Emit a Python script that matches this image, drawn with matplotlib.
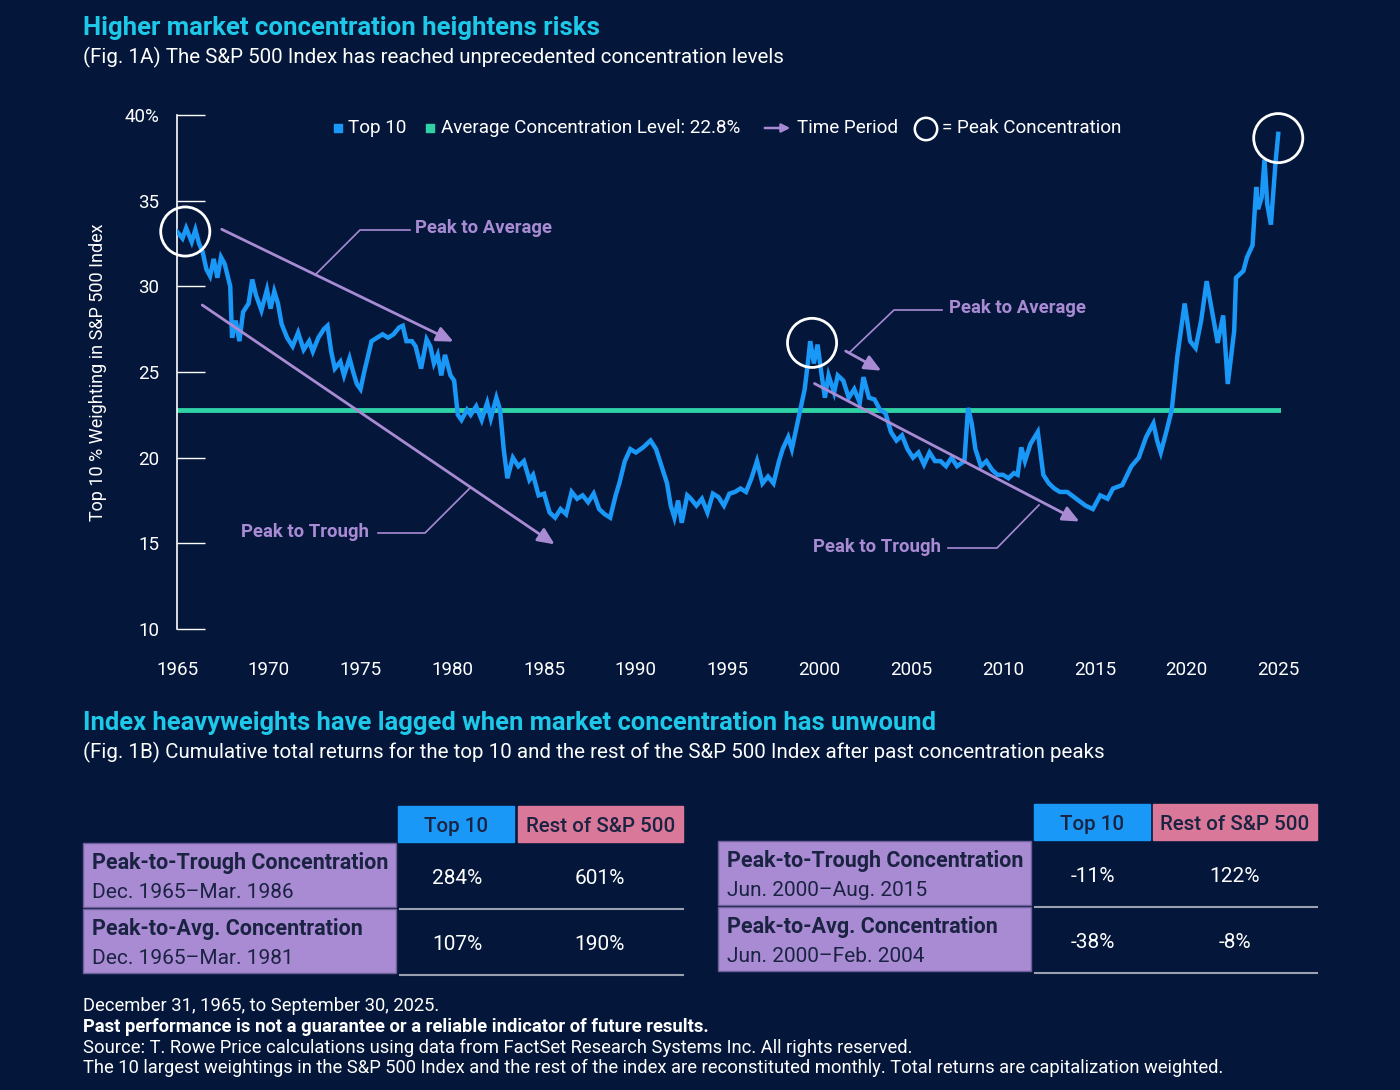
import matplotlib.pyplot as plt
import matplotlib.patches as patches

plt.rcParams['font.family'] = ['Roboto', 'DejaVu Sans']

BG = '#04173a'
BLUE = '#1a98f8'
GREEN = '#2fd1a5'
PURPLE = '#a98bd4'
PINK = '#d97898'
CYAN = '#1ec8e8'
DARK = '#1b2342'

# Top 10 weighting (%)
years = [1965.0, 1965.3, 1965.5, 1965.8, 1966.0, 1966.2, 1966.4, 1966.6, 1966.8, 1967.0,
         1967.2, 1967.4, 1967.6, 1967.9, 1968.0, 1968.2, 1968.4, 1968.6, 1968.9, 1969.1,
         1969.3, 1969.6, 1969.9, 1970.1, 1970.3, 1970.5, 1970.7, 1971.0, 1971.3, 1971.6,
         1971.9, 1972.2, 1972.4, 1972.7, 1973.0, 1973.2, 1973.4, 1973.6, 1973.9, 1974.1,
         1974.4, 1974.6, 1974.8, 1975.0, 1975.2, 1975.6, 1975.9, 1976.2, 1976.5, 1976.8,
         1977.1, 1977.3, 1977.5, 1977.8, 1978.0, 1978.3, 1978.6, 1978.8, 1979.0, 1979.2,
         1979.4, 1979.6, 1979.9, 1980.1, 1980.3, 1980.5, 1980.8, 1981.0, 1981.3, 1981.6,
         1981.9, 1982.1, 1982.4, 1982.6, 1982.8, 1983.0, 1983.3, 1983.6, 1983.9, 1984.2,
         1984.4, 1984.7, 1985.0, 1985.3, 1985.6, 1985.9, 1986.2, 1986.5, 1986.8, 1987.1,
         1987.4, 1987.7, 1988.0, 1988.3, 1988.6, 1988.9, 1989.1, 1989.4, 1989.7, 1990.0,
         1990.4, 1990.8, 1991.1, 1991.4, 1991.7, 1991.9, 1992.1, 1992.3, 1992.5, 1992.8,
         1993.0, 1993.3, 1993.6, 1993.9, 1994.2, 1994.5, 1994.8, 1995.1, 1995.4, 1995.7,
         1996.0, 1996.3, 1996.6, 1996.9, 1997.2, 1997.5, 1997.8, 1998.0, 1998.3, 1998.5,
         1998.8, 1999.0, 1999.2, 1999.4, 1999.5, 1999.7, 1999.9, 2000.1, 2000.3, 2000.5,
         2000.8, 2001.0, 2001.3, 2001.6, 2001.9, 2002.2, 2002.4, 2002.7, 2003.0, 2003.3,
         2003.6, 2003.9, 2004.2, 2004.5, 2004.8, 2005.1, 2005.4, 2005.7, 2006.0, 2006.3,
         2006.6, 2006.9, 2007.2, 2007.5, 2007.9, 2008.1, 2008.3, 2008.5, 2008.8, 2009.1,
         2009.4, 2009.7, 2010.0, 2010.3, 2010.6, 2010.8, 2011.0, 2011.2, 2011.5, 2011.9,
         2012.2, 2012.5, 2012.8, 2013.1, 2013.5, 2014.0, 2014.5, 2014.9, 2015.3, 2015.7,
         2016.0, 2016.5, 2017.0, 2017.4, 2017.8, 2018.2, 2018.4, 2018.6, 2018.9, 2019.2,
         2019.5, 2019.9, 2020.2, 2020.5, 2020.8, 2021.1, 2021.4, 2021.7, 2022.0, 2022.25,
         2022.6, 2022.7, 2023.1, 2023.3, 2023.6, 2023.8, 2023.9, 2024.1, 2024.25, 2024.4,
         2024.6, 2024.85, 2025.0]
weights = [33.2, 32.8, 33.4, 32.6, 33.3, 32.5, 32.0, 31.0, 30.6, 31.6,
           30.5, 31.7, 31.3, 30.0, 27.0, 28.0, 26.8, 28.5, 29.0, 30.4,
           29.5, 28.6, 29.8, 28.7, 29.7, 29.0, 27.8, 27.0, 26.5, 27.3,
           26.3, 26.8, 26.2, 27.0, 27.5, 27.7, 26.2, 25.2, 25.6, 24.8,
           25.8, 25.0, 24.3, 24.0, 25.0, 26.8, 27.0, 27.2, 27.0, 27.2,
           27.6, 27.7, 26.8, 26.8, 26.5, 25.2, 26.9, 26.5, 25.5, 26.0,
           24.8, 26.0, 24.8, 24.5, 22.5, 22.2, 22.8, 22.5, 23.0, 22.2,
           23.2, 22.3, 23.5, 22.8, 20.5, 18.8, 20.0, 19.5, 19.8, 18.7,
           19.0, 17.8, 17.9, 16.8, 16.5, 17.0, 16.7, 18.0, 17.6, 17.8,
           17.4, 17.9, 17.0, 16.7, 16.5, 17.8, 18.5, 19.8, 20.5, 20.3,
           20.6, 21.0, 20.5, 19.5, 18.5, 17.2, 16.5, 17.5, 16.2, 17.8,
           17.6, 17.2, 17.6, 16.8, 17.9, 17.7, 17.2, 17.9, 18.0, 18.2,
           18.0, 18.8, 19.8, 18.5, 18.9, 18.5, 19.8, 20.5, 21.2, 20.5,
           22.0, 23.0, 24.0, 25.8, 26.8, 25.5, 26.6, 25.0, 23.5, 24.8,
           23.8, 24.8, 24.5, 23.5, 24.0, 23.2, 24.7, 23.5, 23.4, 22.8,
           22.6, 21.5, 21.0, 21.3, 20.5, 20.0, 20.3, 19.6, 20.3, 19.8,
           19.8, 19.5, 20.0, 19.5, 19.8, 22.9, 22.0, 20.5, 19.5, 19.8,
           19.3, 19.0, 19.0, 18.8, 19.1, 19.0, 20.6, 19.8, 20.8, 21.5,
           19.0, 18.5, 18.2, 18.0, 18.0, 17.6, 17.2, 17.0, 17.8, 17.6,
           18.2, 18.4, 19.5, 20.0, 21.2, 22.0, 21.0, 20.3, 21.5, 22.8,
           25.9, 29.0, 26.8, 26.4, 28.0, 30.3, 28.5, 26.7, 28.3, 24.3,
           27.4, 30.5, 30.9, 31.7, 32.4, 35.8, 34.5, 35.2, 37.4, 34.8,
           33.6, 37.2, 38.9]
avg_level = 22.8
peaks_x = [1965.45, 1999.6, 2025.0]
peaks_y = [33.2, 26.7, 38.65]

yticks = [10, 15, 20, 25, 30, 35, 40]
ytick_labels = ['10', '15', '20', '25', '30', '35', '40%']
xticks = [1965, 1970, 1975, 1980, 1985, 1990, 1995, 2000, 2005, 2010, 2015, 2020, 2025]

fig = plt.figure(figsize=(14, 10.9), dpi=100, facecolor=BG)

# overlay in pixel coordinates for texts and tables
ov = fig.add_axes([0, 0, 1, 1], zorder=0)
ov.set_xlim(0, 1400)
ov.set_ylim(1090, 0)
ov.axis('off')
ov.set_facecolor('none')

ax = fig.add_axes([177/1400, 1 - 629/1090, (1281 - 177)/1400, (629 - 115)/1090], zorder=1)
ax.set_facecolor('none')
ax.set_xlim(1965, 2025.15)
ax.set_ylim(10, 40)
for s in ['top', 'right', 'bottom']:
    ax.spines[s].set_visible(False)
ax.spines['left'].set_color('white')
ax.spines['left'].set_linewidth(1.2)
ax.set_yticks(yticks)
ax.set_yticklabels(ytick_labels)
ax.tick_params(axis='y', direction='in', length=20, width=1, color='white',
               labelcolor='white', labelsize=13.5, pad=13)
ax.set_xticks(xticks)
ax.set_xticklabels([str(x) for x in xticks])
ax.tick_params(axis='x', length=0, labelcolor='white', labelsize=13.5, pad=23)
ax.set_ylabel('Top 10 % Weighting in S&P 500 Index', color='white', fontsize=13, labelpad=12)

ax.axhline(avg_level, color=GREEN, lw=3.5, zorder=2)
ax.plot(years, weights, color=BLUE, lw=3.2, zorder=3, solid_joinstyle='miter')
ax.scatter(peaks_x, peaks_y, s=1250, facecolors='none', edgecolors='white', linewidths=2,
           zorder=4, clip_on=False)

arrow_kw = dict(arrowstyle='-|>,head_length=1.0,head_width=0.45', color=PURPLE, lw=2)
ax.annotate('', xy=(1980.2, 26.7), xytext=(1967.3, 33.4), arrowprops=arrow_kw)
ax.annotate('', xy=(1985.7, 14.85), xytext=(1966.25, 29.0), arrowprops=arrow_kw)
ax.annotate('', xy=(2003.5, 25.0), xytext=(2001.3, 26.3), arrowprops=arrow_kw)
ax.annotate('', xy=(2014.3, 16.2), xytext=(1999.6, 24.4), arrowprops=arrow_kw)

# leader lines and labels (pixel space)
leaders = [([315, 360, 410], [275, 230, 230]), ([470, 425, 378], [488, 533, 533]),
           ([850, 894, 942], [352, 310, 310]), ([1039, 997, 948], [505, 548, 548])]
for lx, ly in leaders:
    ov.plot(lx, ly, color=PURPLE, lw=1.2)
lab = dict(color=PURPLE, fontsize=13.3, fontweight='bold', va='center')
ov.text(415, 228, 'Peak to Average', ha='left', **lab)
ov.text(369, 532, 'Peak to Trough', ha='right', **lab)
ov.text(949, 308, 'Peak to Average', ha='left', **lab)
ov.text(941, 547, 'Peak to Trough', ha='right', **lab)

# legend
ov.scatter([338, 430], [128, 128], marker='s', s=40, color=[BLUE, GREEN])
leg = dict(color='white', fontsize=13.6, va='center')
ov.text(348, 128, 'Top 10', **leg)
ov.text(441, 128, 'Average Concentration Level: 22.8%', **leg)
ov.annotate('', xy=(793, 128), xytext=(762, 128),
            arrowprops=dict(arrowstyle='-|>,head_length=0.5,head_width=0.25', color=PURPLE, lw=1.8))
ov.text(797, 128, 'Time Period', **leg)
ov.scatter([926], [129], s=260, facecolors='none', edgecolors='white', linewidths=1.8)
ov.text(942, 128, '= Peak Concentration', **leg)

# titles
ov.text(83, 28, 'Higher market concentration heightens risks', color=CYAN, fontsize=18.5,
        fontweight='bold', va='center')
ov.text(83, 57, '(Fig. 1A) The S&P 500 Index has reached unprecedented concentration levels',
        color='white', fontsize=14.8, va='center')
ov.text(83, 723, 'Index heavyweights have lagged when market concentration has unwound', color=CYAN,
        fontsize=18.4, fontweight='bold', va='center')
ov.text(83, 752, '(Fig. 1B) Cumulative total returns for the top 10 and the rest of the S&P 500 Index '
        'after past concentration peaks', color='white', fontsize=14.8, va='center')

# tables
row_titles = ['Peak-to-Trough Concentration', 'Peak-to-Avg. Concentration']
left_periods = ['Dec. 1965\u2013Mar. 1986', 'Dec. 1965\u2013Mar. 1981']
left_top10 = ['284%', '107%']
left_rest = ['601%', '190%']
right_periods = ['Jun. 2000\u2013Aug. 2015', 'Jun. 2000\u2013Feb. 2004']
right_top10 = ['-11%', '-38%']
right_rest = ['122%', '-8%']


def draw_table(x0, xlab, xt, xr, xend, yh, periods, top10, rest):
    ov.add_patch(patches.Rectangle((xt, yh), 116, 36, color=BLUE))
    ov.add_patch(patches.Rectangle((xr, yh), xend - xr, 36, color=PINK))
    ov.text(xt + 58, yh + 20, 'Top 10', color=DARK, fontsize=14.8, fontweight='medium',
            ha='center', va='center')
    ov.text((xr + xend) / 2, yh + 20, 'Rest of S&P 500', color=DARK, fontsize=14.8,
            fontweight='medium', ha='center', va='center')
    for i in range(2):
        top = yh + 37 + i * 66
        ov.add_patch(patches.Rectangle((x0, top), xlab - x0, 64, facecolor=PURPLE,
                                       edgecolor='#6e5f9a', lw=1))
        ov.text(x0 + 9, top + 20, row_titles[i], color=DARK, fontsize=15.5,
                fontweight='bold', va='center')
        ov.text(x0 + 9, top + 49, periods[i], color=DARK, fontsize=15, va='center')
        ov.text(xt + 59, top + 35, top10[i], color='white', fontsize=15, ha='center', va='center')
        ov.text(xr + 82, top + 35, rest[i], color='white', fontsize=15, ha='center', va='center')
        ov.plot([xlab + 4, xend], [top + 66, top + 66], color='#9aa0b0', lw=1.5)


draw_table(83, 396, 398, 518, 683, 806, left_periods, left_top10, left_rest)
draw_table(718, 1031, 1034, 1153, 1317, 804, right_periods, right_top10, right_rest)

# footnotes
foot = dict(color='white', fontsize=13.2, va='center')
ov.text(83, 1006, 'December 31, 1965, to September 30, 2025.', **foot)
ov.text(83, 1027, 'Past performance is not a guarantee or a reliable indicator of future results.',
        fontweight='bold', **foot)
ov.text(83, 1048, 'Source: T. Rowe Price calculations using data from FactSet Research Systems Inc. '
        'All rights reserved.', **foot)
ov.text(83, 1068, 'The 10 largest weightings in the S&P 500 Index and the rest of the index are '
        'reconstituted monthly. Total returns are capitalization weighted.', **foot)

fig.savefig('out.png', dpi=100, facecolor=BG)
